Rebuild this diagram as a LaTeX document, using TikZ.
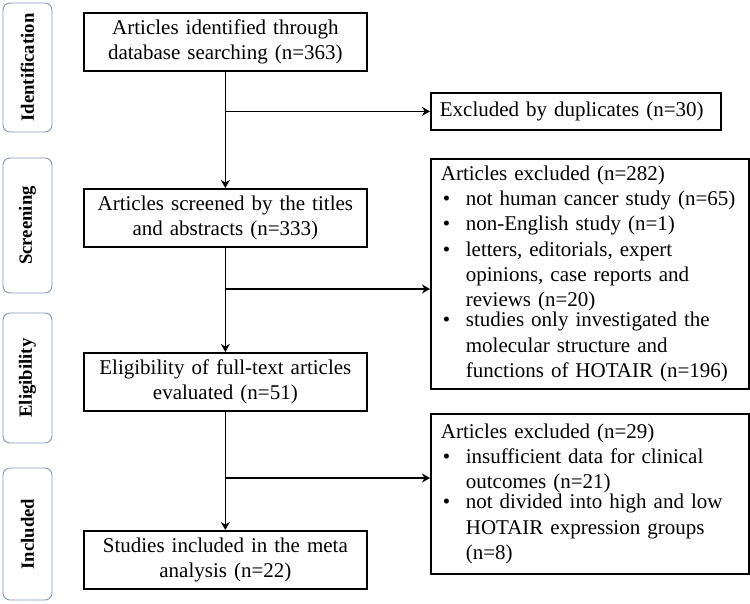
\documentclass[tikz,border=0pt]{standalone}
\usepackage{fontspec}
\setmainfont{Liberation Serif}
\usetikzlibrary{arrows.meta,calc,positioning}

\definecolor{stagecol}{RGB}{128,150,186}
\newcommand{\exitem}[1]{\par\noindent\makebox[25pt][l]{\hspace{2pt}\textbullet}\parbox[t]{273pt}{\raggedright #1}}

\tikzset{
  stage/.style={draw=stagecol, line width=0.9pt, rounded corners=7pt, rotate=90,
    minimum height=49pt, inner sep=0pt, font=\fontsize{18.7}{22}\selectfont\bfseries},
  flowbox/.style={draw, line width=1.7pt, anchor=north west, minimum width=283pt,
    minimum height=58pt, text width=275pt, inner sep=4pt, align=center,
    font=\fontsize{21}{25.3}\selectfont},
  exclbox/.style={draw, line width=1.7pt, anchor=north west, text width=298pt,
    inner xsep=10pt, inner ysep=3pt, align=left, font=\fontsize{21}{25.3}\selectfont},
  link/.style={->, line width=1.7pt}
}

\begin{document}
\begin{tikzpicture}[x=1pt, y=-1pt, >={Stealth[length=8pt,width=9pt]}]
  \useasboundingbox (0,0) rectangle (750,603);
  % stage labels
  \node[stage, minimum width=129pt](ident) at (27.5,67.5) {Identification};
  \node[stage, minimum width=135pt](screen) at (27.5,225.5) {Screening};
  \node[stage, minimum width=130pt](elig) at (27.5,378) {Eligibility};
  \node[stage, minimum width=132pt](incl) at (27.5,534) {Included};
  % main column
  \node[flowbox](idbox) at (83,12) {Articles identified through\\database searching (n=363)};
  \node[flowbox](scrbox) at (83,188) {Articles screened by the titles\\and abstracts (n=333)};
  \node[flowbox](eligbox) at (83,352) {Eligibility of full-text articles\\evaluated (n=51)};
  \node[flowbox](inclbox) at (83,530) {Studies included in the meta\\analysis (n=22)};
  % excluded boxes
  \node[exclbox, text width=272pt, minimum height=37pt, inner xsep=9pt](dupbox) at (430,92) {Excluded by duplicates (n=30)};
  \node[exclbox, minimum height=230pt](excl1) at (430,158) {Articles excluded (n=282)
    \exitem{not human cancer study (n=65)}
    \exitem{non-English study (n=1)}
    \exitem{letters, editorials, expert\\opinions, case reports and\\reviews (n=20)}
    \exitem{studies only investigated the\\molecular structure and\\functions of HOTAIR (n=196)}};
  \node[exclbox, minimum height=160pt](excl2) at (430,413) {Articles excluded (n=29)
    \exitem{insufficient data for clinical\\outcomes (n=21)}
    \exitem{not divided into high and low\\HOTAIR expression groups\\(n=8)}};
  % branch points
  \coordinate (b2) at (scrbox.south |- 0,289);
  \coordinate (b3) at (eligbox.south |- 0,478);
  % edges
  \draw[link] (idbox.south) -- (scrbox.north);
  \draw[link] (scrbox.south) -- (eligbox.north);
  \draw[link] (eligbox.south) -- (inclbox.north);
  \draw[link] (idbox.south |- dupbox.west) -- (dupbox.west);
  \draw[link] (b2) -- (b2 -| excl1.west);
  \draw[link] (b3) -- (b3 -| excl2.west);
\end{tikzpicture}
\end{document}
